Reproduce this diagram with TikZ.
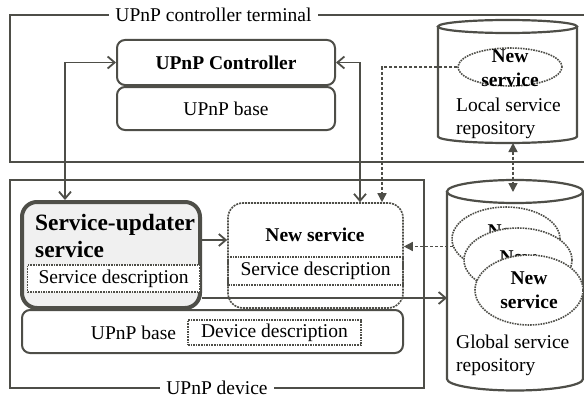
\documentclass[tikz,border=0pt]{standalone}
\usepackage{fontspec}
\setmainfont{Liberation Serif}
\usetikzlibrary{arrows.meta, shapes.geometric, positioning, calc}

\definecolor{linegray}{RGB}{78,78,72}
\definecolor{fillgray}{RGB}{240,240,240}

\begin{document}
\begin{tikzpicture}[%
    x=1pt, y=1pt,
    every node/.style={font=\fontsize{19.5}{23}\selectfont},
    boldtext/.style={font=\fontsize{19.5}{24}\selectfont\bfseries},
    frame/.style={draw=linegray, line width=2.2pt},
    framelabel/.style={fill=white, inner sep=6pt},
    block/.style={draw=linegray, line width=2pt, rounded corners=8pt},
    dotbox/.style={draw=linegray, line width=1.6pt, densely dotted},
    svcellipse/.style={ellipse, dotbox, fill=white, inner sep=0pt},
    link/.style={draw=linegray, line width=1.8pt, -{Straight Barb[length=7pt,width=12pt]}},
    twolink/.style={draw=linegray, line width=1.8pt, {Straight Barb[length=7pt,width=12pt]}-{Straight Barb[length=7pt,width=12pt]}},
    dashlink/.style={draw=linegray, line width=1.5pt, dash pattern=on 3pt off 2pt, -{Triangle[length=9pt,width=9pt]}},
    dashtwo/.style={draw=linegray, line width=1.5pt, dash pattern=on 3pt off 2pt, {Triangle[length=9pt,width=9pt]}-{Triangle[length=9pt,width=9pt]}},
    ]

\useasboundingbox (0,0) rectangle (584,400);

%==================================================
% Frames
%==================================================
\draw[frame] (584,385) -- (10,385) -- (10,238) -- (584,238);
\node[framelabel] (termlabel) at (213.5,385) {UPnP controller terminal};

\draw[frame] (10,12) rectangle (424,220);
\node[framelabel] (devlabel) at (217,12) {UPnP device};

%==================================================
% Controller terminal
%==================================================
\node[block, boldtext, minimum width=218pt, minimum height=45pt] (ctrl) at (226,337.5) {UPnP Controller};
\node[block, minimum width=218pt, minimum height=43pt] (ctrlbase) at (226,291.5) {UPnP base};

% Local repository
\draw[frame] (438,373.5) -- (438,263.5) arc[start angle=180, end angle=360, x radius=69.5, y radius=6.5] -- (577,373.5);
\draw[frame] (507.5,373.5) ellipse[x radius=69.5, y radius=6.5];
\coordinate (locbot) at (513,257);

\node[svcellipse, minimum width=104pt, minimum height=38pt] (locsvc) at (510,333) {};
\node[boldtext, align=center, inner sep=0pt] (loctext) at (510,332) {New\\service};
\node[anchor=west, align=left, inner sep=0pt] (locname) at (456,282) {Local service\\repository};

%==================================================
% Device
%==================================================
\node[block, fill=fillgray, line width=4pt, rounded corners=15pt, minimum width=178pt, minimum height=106pt] (upd) at (111,145) {};
\node[anchor=west, align=left, inner sep=0pt, font=\fontsize{23.4}{27}\selectfont\bfseries] (updtitle) at (35,164.5) {Service-updater\\service};
\node[dotbox, fill=white, minimum width=172pt, minimum height=27pt] (upddesc) at (113.5,121.5) {Service description};

\node[block, densely dotted, line width=1.6pt, rounded corners=15pt, minimum width=175pt, minimum height=105pt] (newsvc) at (315.5,144.5) {};
\node[boldtext] (newtitle) at (315,165) {New service};
\node[dotbox, minimum width=175pt, minimum height=28pt] (newdesc) at (315.5,129) {Service description};

\node[block, minimum width=381pt, minimum height=43pt] (devbase) at (212.5,68.5) {};
\node (basetext) at (133.5,67) {UPnP base};
\node[dotbox, minimum width=173pt, minimum height=25pt] (devdesc) at (274.5,67.5) {Device description};

% Global repository
\draw[frame] (447,208.5) -- (447,21) arc[start angle=180, end angle=360, x radius=68, y radius=11.5] -- (583,208.5);
\draw[frame] (515,208.5) ellipse[x radius=68, y radius=11.5];
\coordinate (glbtop) at (513,208);
\coordinate (glbleft) at (447,102);

\node[svcellipse, minimum width=108pt, minimum height=64pt] (g1) at (506,161) {};
\node[boldtext, align=center, inner sep=0pt] (g1text) at (506,156.5) {New\\service};
\node[svcellipse, minimum width=108pt, minimum height=64pt] (g2) at (518,140) {};
\node[boldtext, align=center, inner sep=0pt] (g2text) at (518,130.5) {New\\service};
\node[svcellipse, boldtext, align=center, minimum width=108pt, minimum height=70pt] (g3) at (529,110) {New\\service};
\node[anchor=west, align=left, inner sep=0pt] (glbname) at (456,45) {Global service\\repository};

%==================================================
% Arrows
%==================================================
\coordinate (lft) at (65,337.5);
\coordinate (rgt) at (360,337.5);
\coordinate (dsh) at (382,333);

\draw[twolink] (ctrl.west) -- (lft) -- (lft |- upd.north);
\draw[twolink] (ctrl.east) -- (rgt) -- (rgt |- newsvc.north);
\draw[dashlink] (locsvc.west) -- (dsh) -- (dsh |- newsvc.north);
\draw[dashtwo] (locbot) -- (glbtop);
\draw[dashlink] (g1.188) -- (g1.188 -| newsvc.east);

\draw[link] ([yshift=15pt]upd.east) -- ([yshift=15pt]upd.east -| newsvc.west);
\draw[link] ([yshift=-43pt]upd.east) -- (glbleft);

%==================================================
\end{tikzpicture}
\end{document}
